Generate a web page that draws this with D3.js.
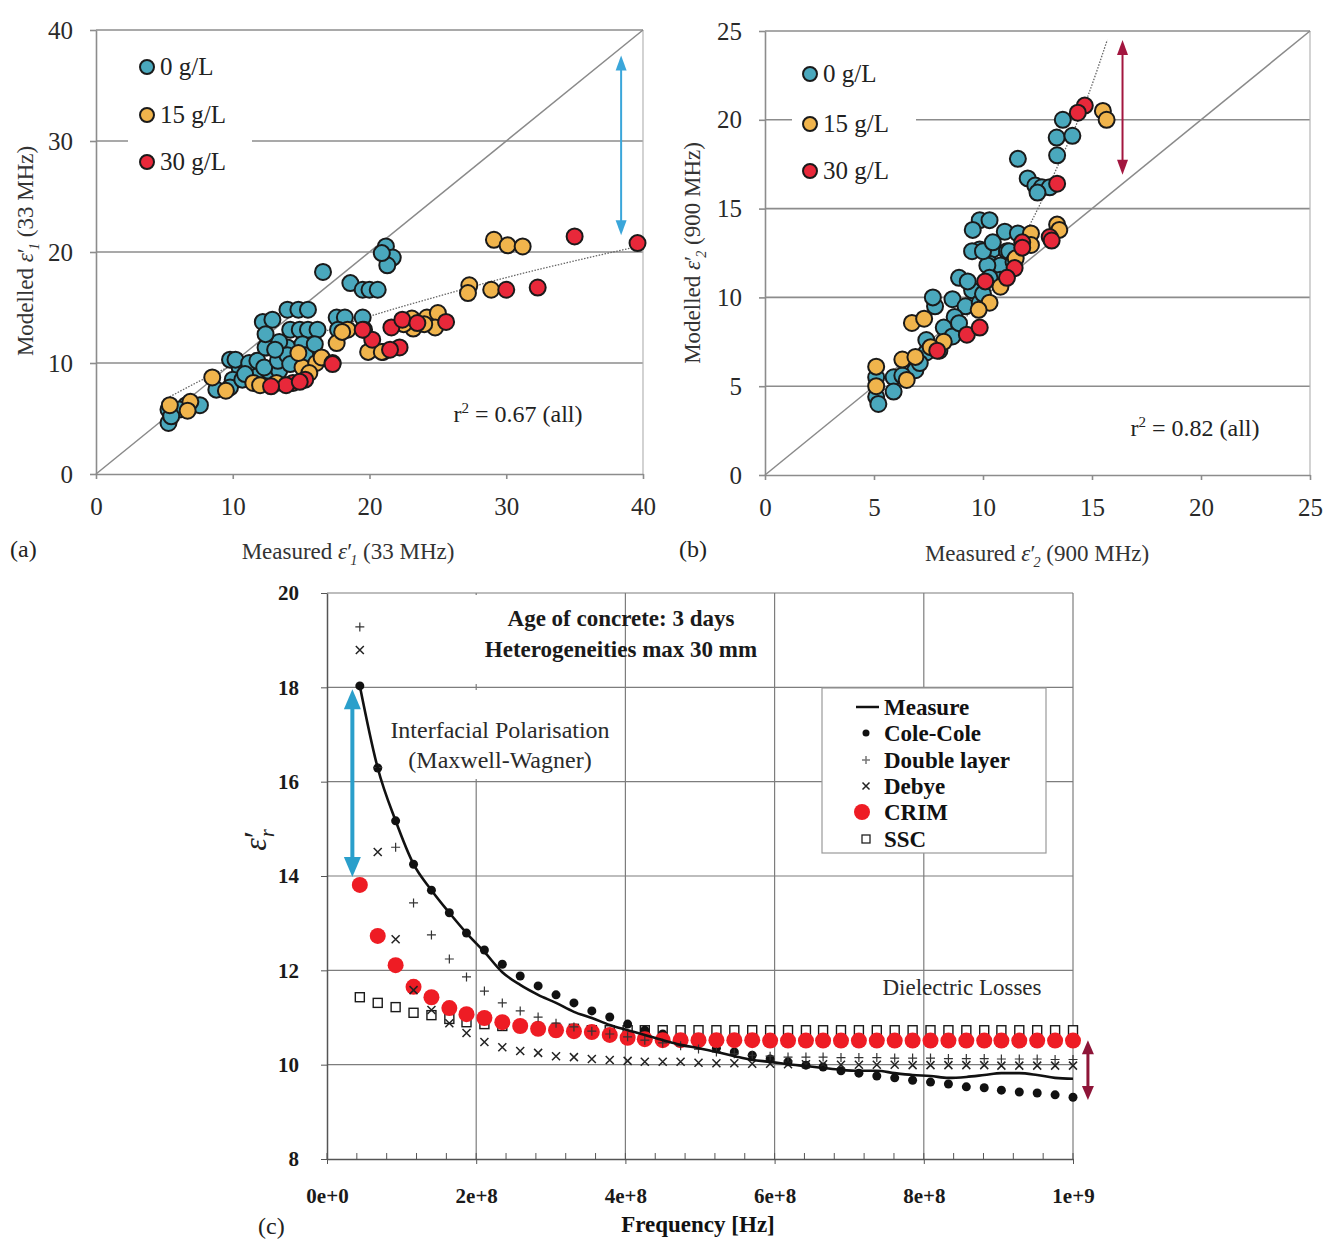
<!DOCTYPE html>
<html><head><meta charset="utf-8">
<script src="https://cdn.jsdelivr.net/npm/d3@7"></script>
<style>body{margin:0;background:#fff}</style></head>
<body><svg id="c" width="1337" height="1243"></svg>
<script>
// ---------- Panel (a) data: [measured, modelled] at 33 MHz ----------
const a0 = [[16.6,18.2],[18.6,17.2],[19.5,16.6],[20.0,16.6],[20.6,16.6],[21.2,20.5],[21.7,19.5],[21.3,18.8],[20.9,19.9],
 [14.0,14.8],[14.8,14.8],[15.5,14.8],[12.2,13.7],[12.9,13.9],[14.2,13.0],[14.9,13.0],[15.5,13.0],[16.2,13.0],
 [17.6,14.1],[18.2,14.1],[19.5,14.1],[17.7,13.0],[15.5,11.4],[14.0,11.4],[12.5,11.4],[13.4,11.9],
 [10.5,9.6],[9.8,10.3],[11.3,9.6],[11.8,9.1],[12.6,9.3],[13.4,9.3],[10.0,8.5],[8.8,7.6],[9.8,7.8],[7.6,6.2],[6.6,6.2],
 [5.3,5.8],[6.1,5.8],[5.3,4.6],[5.5,5.2],[10.7,8.5],[10.2,10.3],[11.2,10.0],[11.8,10.2],[12.3,9.6],[12.4,11.4],
 [13.3,10.2],[14.0,10.7],[14.2,9.9],[15.1,11.7],[15.3,10.7],[16.0,11.7],[12.4,12.6],[13.1,11.2],[10.9,9.0]];
const a15 = [[29.1,21.1],[30.1,20.6],[31.2,20.5],[27.3,17.0],[27.2,16.3],[28.9,16.6],[23.1,14.0],[24.2,14.1],[25.0,14.5],
 [24.8,13.2],[23.2,13.1],[21.0,11.0],[19.9,11.0],[20.9,11.0],[15.1,9.6],[16.1,10.0],[17.6,11.8],[18.4,13.0],[19.6,13.0],
 [13.2,8.2],[8.5,8.7],[14.8,10.9],[15.6,9.1],[6.9,6.5],[6.7,5.7],[5.4,6.2],[9.5,7.5],[11.5,8.2],[12.0,8.0],[16.5,10.5],
 [18.0,12.8],[22.5,13.5],[24.0,13.5]];
const a30 = [[39.6,20.8],[35.0,21.4],[32.3,16.8],[30.0,16.6],[21.6,13.2],[22.2,11.4],[22.4,13.9],[25.6,13.7],[20.2,12.1],
 [17.3,10.0],[14.4,8.2],[15.3,8.5],[17.3,9.9],[13.9,8.0],[14.9,8.3],[12.8,7.9],[21.5,11.2],[23.5,13.6],[19.5,13.0]];
const aTrend = [[5,6.7],[10,9.8],[15,12.1],[20,14.2],[25,16.0],[30,17.7],[35,19.2],[40,20.6]];
const aTicks = [0,10,20,30,40];

// ---------- Panel (b) data: [measured, modelled] at 900 MHz ----------
const b0 = [[13.66,20.0],[13.38,19.0],[14.1,19.1],[13.4,18.0],[11.6,17.8],[12.05,16.7],[12.4,16.3],[12.7,16.2],[13.06,16.2],[12.5,15.9],
 [9.85,14.35],[10.3,14.35],[9.53,13.8],[11.0,13.7],[11.6,13.6],[9.85,12.7],[10.45,12.7],[11.1,12.6],[8.9,11.1],[10.3,11.9],[10.8,11.8],
 [5.1,4.4],[5.1,5.5],[5.9,5.5],[5.9,4.7],[6.9,5.9],[7.4,6.9],[7.8,9.5],[7.7,10.0],[8.6,9.9],[9.5,10.4],[9.2,9.5],[8.7,8.9],
 [8.2,8.3],[7.4,7.6],[8.0,7.0],[8.6,7.8],[10.2,11.8],[10.8,11.0],[11.2,12.6],[9.5,12.6],[10.0,12.6],[10.45,13.1],[9.85,9.7],
 [10.3,11.1],[8.9,8.55],[6.3,5.6],[5.2,4.0],[7.1,6.3],[9.3,10.9],[10.0,10.2],[11.4,12.0]];
const b15 = [[15.5,20.5],[15.67,20.0],[12.2,13.6],[13.4,14.1],[13.5,13.8],[12.2,12.95],[10.3,9.7],[10.8,10.6],[5.1,6.1],[6.3,6.5],
 [6.74,8.56],[7.3,8.8],[6.5,5.35],[6.9,6.65],[5.1,5.0],[8.2,7.5],[9.8,9.3],[7.6,7.2],[11.5,12.2]];
const b30 = [[14.67,20.8],[14.35,20.4],[13.4,16.4],[13.06,13.4],[11.8,13.1],[11.45,11.65],[9.26,7.9],[9.85,8.3],[11.1,11.1],
 [11.8,12.8],[13.15,13.2],[10.1,10.9],[7.9,7.0]];
const bTrend = [[5,4.4],[7,6.3],[9,8.6],[10,10.0],[11,11.7],[11.8,13.3],[12.6,15.2],[13.5,17.6],[14.8,21.3],[15.7,24.5]];
const bTicks = [0,5,10,15,20,25];

const groups = ["0 g/L","15 g/L","30 g/L"];
const groupColors = ["#4aa8bd","#f0b44c","#e8283a"];

// ---------- Panel (c) data ----------
const freqMHz = [44,68,92,116,140,164,187,211,235,259,283,307,331,355,379,403,426,450,474,498,522,546,570,594,618,642,665,689,713,737,761,785,809,833,857,881,904,928,952,976,1000];
const measure = [18.03,16.29,15.17,14.25,13.70,13.22,12.79,12.39,11.96,11.69,11.48,11.31,11.12,10.99,10.84,10.73,10.63,10.52,10.42,10.35,10.27,10.18,10.10,10.06,10.01,9.97,9.93,9.89,9.87,9.87,9.82,9.78,9.76,9.72,9.74,9.78,9.82,9.82,9.78,9.72,9.70];
const coleCole = [18.03,16.29,15.17,14.25,13.70,13.22,12.79,12.43,12.13,11.88,11.67,11.48,11.31,11.14,11.01,10.86,10.73,10.65,10.57,10.44,10.35,10.27,10.20,10.12,10.06,9.99,9.95,9.87,9.82,9.76,9.72,9.67,9.63,9.59,9.53,9.51,9.46,9.42,9.40,9.36,9.31];
const doubleLayer = [19.28,16.3,14.61,13.43,12.75,12.24,11.86,11.56,11.31,11.14,11.01,10.88,10.80,10.71,10.65,10.59,10.52,10.46,10.40,10.33,10.27,10.23,10.20,10.18,10.16,10.16,10.16,10.15,10.15,10.15,10.14,10.14,10.14,10.13,10.13,10.13,10.12,10.12,10.12,10.11,10.11];
const debye = [18.79,14.51,12.66,11.58,11.16,10.88,10.67,10.48,10.37,10.29,10.25,10.18,10.16,10.12,10.10,10.08,10.06,10.06,10.06,10.04,10.03,10.03,10.02,10.02,10.01,10.01,10.01,10.0,10.0,10.0,10.0,9.99,9.99,9.99,9.99,9.99,9.98,9.98,9.98,9.98,9.98];
const crim = [13.81,12.73,12.11,11.65,11.43,11.20,11.07,10.99,10.90,10.82,10.76,10.73,10.71,10.69,10.63,10.57,10.54,10.52,10.52,10.52,10.52,10.52,10.52,10.51,10.51,10.51,10.51,10.51,10.51,10.51,10.51,10.51,10.51,10.51,10.51,10.51,10.51,10.51,10.51,10.51,10.51];
const ssc = [11.43,11.31,11.22,11.10,11.05,10.97,10.90,10.86,10.82,10.80,10.78,10.76,10.76,10.73,10.73,10.73,10.73,10.73,10.73,10.73,10.73,10.73,10.73,10.73,10.73,10.73,10.73,10.73,10.73,10.73,10.73,10.73,10.73,10.73,10.73,10.73,10.73,10.73,10.73,10.73,10.73];
const cXTicks = [0,2e8,4e8,6e8,8e8,1e9];
const cXTickLabels = ["0e+0","2e+8","4e+8","6e+8","8e+8","1e+9"];
const cYTicks = [8,10,12,14,16,18,20];
const legendC = ["Measure","Cole-Cole","Double layer","Debye","CRIM","SSC"];

// ================= drawing =================
const svg = d3.select("#c");
svg.append("rect").attr("width",1337).attr("height",1243).attr("fill","#fff");
const SERIF = "'Liberation Serif', 'Times New Roman', serif";

function arrow(g, x, y1, y2, color, w, hw, hl) {
  g.append("line").attr("x1",x).attr("x2",x).attr("y1",y1+hl-2).attr("y2",y2-hl+2)
    .attr("stroke",color).attr("stroke-width",w);
  g.append("path").attr("d",`M${x},${y1}L${x-hw/2},${y1+hl}L${x+hw/2},${y1+hl}Z`).attr("fill",color);
  g.append("path").attr("d",`M${x},${y2}L${x-hw/2},${y2-hl}L${x+hw/2},${y2-hl}Z`).attr("fill",color);
}

function epsLabel(g, x, y, rot, pre, sub, post, size, color) {
  const t = g.append("text").attr("transform",`translate(${x},${y}) rotate(${rot})`)
    .attr("text-anchor","middle").style("font-family",SERIF).style("font-size",size+"px").attr("fill",color);
  t.append("tspan").text(pre);
  t.append("tspan").style("font-style","italic").text("ε");
  t.append("tspan").text("′");
  t.append("tspan").attr("dx",-2).attr("dy",6).style("font-style","italic").style("font-size",(size*0.62)+"px").text(sub);
  t.append("tspan").attr("dy",-6).text("\u00a0" + post);
}

function scatterPanel(o) {
  const g = svg.append("g");
  const x = d3.scaleLinear().domain(o.dom).range(o.xr);
  const y = d3.scaleLinear().domain(o.dom).range(o.yr);
  const gridC = "#8c8c8c";
  g.selectAll(".gl").data(o.ticks.slice(1)).join("line")
    .attr("x1",o.xr[0]).attr("x2",o.xr[1]).attr("y1",d=>y(d)).attr("y2",d=>y(d))
    .attr("stroke",gridC).attr("stroke-width",1.6);
  g.append("line").attr("x1",o.xr[1]).attr("x2",o.xr[1]).attr("y1",o.yr[1]).attr("y2",o.yr[0])
    .attr("stroke","#b5b5b5").attr("stroke-width",1.2);
  const ax = g.append("g").attr("transform",`translate(0,${o.yr[0]})`)
    .call(d3.axisBottom(x).tickValues(o.ticks).tickSize(5).tickSizeOuter(0).tickPadding(18));
  const ay = g.append("g").attr("transform",`translate(${o.xr[0]},0)`)
    .call(d3.axisLeft(y).tickValues(o.ticks).tickSize(6).tickSizeOuter(0).tickPadding(17));
  [ax,ay].forEach(a=>{
    a.select(".domain").attr("stroke",gridC).attr("stroke-width",1.6);
    a.selectAll(".tick line").attr("stroke",gridC).attr("stroke-width",1.6);
    a.selectAll("text").style("font-family",SERIF).style("font-size","25px").attr("fill","#2a2a2a");
  });
  g.append("line").attr("x1",x(o.dom[0])).attr("y1",y(o.dom[0])).attr("x2",x(o.dom[1])).attr("y2",y(o.dom[1]))
    .attr("stroke","#8a8a8a").attr("stroke-width",1.5);
  g.append("path").datum(o.trend).attr("fill","none").attr("stroke","#666").attr("stroke-width",1.3)
    .attr("stroke-dasharray","1.5,1.5")
    .attr("d", d3.line().x(d=>x(d[0])).y(d=>y(d[1])).curve(d3.curveMonotoneX));
  g.append("rect").attr("x",o.leg.x).attr("y",o.leg.y).attr("width",o.leg.w).attr("height",o.leg.h).attr("fill","#fff");
  groups.forEach((name,i)=>{
    const cy = o.leg.cy[i];
    g.append("circle").attr("cx",o.leg.cx).attr("cy",cy).attr("r",7)
      .attr("fill",groupColors[i]).attr("stroke","#1a1a1a").attr("stroke-width",2);
    g.append("text").attr("x",o.leg.cx+13).attr("y",cy+8).text(name)
      .style("font-family",SERIF).style("font-size","25px").attr("fill","#222");
  });
  o.sets.forEach((set,i)=>{
    g.append("g").selectAll("circle").data(set).join("circle")
      .attr("cx",d=>x(d[0])).attr("cy",d=>y(d[1])).attr("r",8)
      .attr("fill",groupColors[i]).attr("stroke","#1a1a1a").attr("stroke-width",2);
  });
  arrow(g, x(o.arrow[0]), y(o.arrow[1]), y(o.arrow[2]), o.arrowColor, 2, 11, 15);
  const t = g.append("text").attr("x",o.r2[0]).attr("y",o.r2[1]).attr("text-anchor","middle")
    .style("font-family",SERIF).style("font-size","24px").attr("fill","#222");
  t.append("tspan").text("r");
  t.append("tspan").attr("dy",-9).style("font-size","15px").text("2");
  t.append("tspan").attr("dy",9).text(" = " + o.r2text + " (all)");
  epsLabel(g, o.xlab[0], o.xlab[1], 0, "Measured ", o.sub, o.freq, 23, "#333");
  epsLabel(g, o.ylab[0], o.ylab[1], -90, "Modelled ", o.sub, o.freq, 23, "#333");
  g.append("text").attr("x",o.tag[0]).attr("y",o.tag[1]).text(o.tagText)
    .style("font-family",SERIF).style("font-size","24px").attr("fill","#222");
}

scatterPanel({dom:[0,40], xr:[96,643], yr:[474,30], ticks:aTicks, sets:[a0,a15,a30], trend:aTrend,
  leg:{x:128,y:46,w:124,h:138,cx:147,cy:[67,115,162]}, arrow:[38.4,37.7,21.5], arrowColor:"#3aa6da",
  r2:[518,422], r2text:"0.67", xlab:[348,559], ylab:[33,251], sub:"1", freq:"(33 MHz)", tag:[10,557], tagText:"(a)"});
scatterPanel({dom:[0,25], xr:[765,1310], yr:[475,31], ticks:bTicks, sets:[b0,b15,b30], trend:bTrend,
  leg:{x:792,y:53,w:124,h:138,cx:810,cy:[74,124,171]}, arrow:[16.4,24.5,16.9], arrowColor:"#a3163f",
  r2:[1195,436], r2text:"0.82", xlab:[1037,561], ylab:[700,253], sub:"2", freq:"(900 MHz)", tag:[679,557], tagText:"(b)"});

// ================= Panel (c) =================
(function(){
  const g = svg.append("g");
  const x = d3.scaleLinear().domain([0,1e9]).range([327,1073]);
  const y = d3.scaleLinear().domain([8,20]).range([1159,593]);
  const gc = "#7d7d7d";
  g.selectAll(".hg").data(cYTicks.slice(1)).join("line")
    .attr("x1",327).attr("x2",1073).attr("y1",d=>y(d)).attr("y2",d=>y(d)).attr("stroke",gc).attr("stroke-width",1.2);
  g.selectAll(".vg").data(cXTicks.slice(1)).join("line")
    .attr("x1",d=>x(d)).attr("x2",d=>x(d)).attr("y1",593).attr("y2",1159).attr("stroke",gc).attr("stroke-width",1.2);
  g.selectAll(".mt").data(d3.range(0,1e9+1,4e7)).join("line")
    .attr("x1",d=>x(d)).attr("x2",d=>x(d)).attr("y1",1159).attr("y2",1153).attr("stroke","#555").attr("stroke-width",1);
  const ax = g.append("g").attr("transform","translate(0,1159)")
    .call(d3.axisBottom(x).tickValues(cXTicks).tickFormat((d,i)=>cXTickLabels[i]).tickSize(5).tickSizeOuter(0).tickPadding(24));
  const ay = g.append("g").attr("transform","translate(327,0)")
    .call(d3.axisLeft(y).tickValues(cYTicks).tickSize(6).tickSizeOuter(0).tickPadding(22));
  [ax,ay].forEach(a=>{
    a.select(".domain").attr("stroke","#555").attr("stroke-width",1.5);
    a.selectAll(".tick line").attr("stroke","#555");
    a.selectAll("text").style("font-family",SERIF).style("font-size","21px").style("font-weight","bold").attr("fill","#1a1a1a");
  });
  g.append("rect").attr("x",452).attr("y",595).attr("width",166).attr("height",89).attr("fill","#fff");
  g.append("rect").attr("x",378).attr("y",690).attr("width",242).attr("height",89).attr("fill","#fff");
  g.append("text").attr("x",621).attr("y",626).attr("text-anchor","middle").text("Age of concrete: 3 days")
    .style("font-family",SERIF).style("font-size","23px").style("font-weight","bold").attr("fill","#1a1a1a");
  g.append("text").attr("x",621).attr("y",657).attr("text-anchor","middle").text("Heterogeneities max 30 mm")
    .style("font-family",SERIF).style("font-size","23px").style("font-weight","bold").attr("fill","#1a1a1a");
  g.append("text").attr("x",500).attr("y",738).attr("text-anchor","middle").text("Interfacial Polarisation")
    .style("font-family",SERIF).style("font-size","24px").attr("fill","#2a2a2a");
  g.append("text").attr("x",500).attr("y",768).attr("text-anchor","middle").text("(Maxwell-Wagner)")
    .style("font-family",SERIF).style("font-size","24px").attr("fill","#2a2a2a");
  g.append("text").attr("x",962).attr("y",995).attr("text-anchor","middle").text("Dielectric Losses")
    .style("font-family",SERIF).style("font-size","23px").attr("fill","#2a2a2a");

  const fx = i => x(freqMHz[i]*1e6);
  g.append("g").selectAll("rect").data(ssc).join("rect")
    .attr("x",(d,i)=>fx(i)-4.5).attr("y",d=>y(d)-4.5).attr("width",9).attr("height",9)
    .attr("fill","#fff").attr("stroke","#1a1a1a").attr("stroke-width",1.4);
  g.append("g").selectAll("circle").data(coleCole).join("circle")
    .attr("cx",(d,i)=>fx(i)).attr("cy",d=>y(d)).attr("r",4.5).attr("fill","#111");
  g.append("g").selectAll("circle").data(crim).join("circle")
    .attr("cx",(d,i)=>fx(i)).attr("cy",d=>y(d)).attr("r",8).attr("fill","#ee1c24");
  g.append("g").selectAll("path").data(debye).join("path")
    .attr("d",(d,i)=>{const cx=fx(i),cy=y(d),s=4;return `M${cx-s},${cy-s}L${cx+s},${cy+s}M${cx-s},${cy+s}L${cx+s},${cy-s}`;})
    .attr("stroke","#222").attr("stroke-width",1.5);
  g.append("g").selectAll("path").data(doubleLayer).join("path")
    .attr("d",(d,i)=>{const cx=fx(i),cy=y(d),s=4.5;return `M${cx-s},${cy}L${cx+s},${cy}M${cx},${cy-s}L${cx},${cy+s}`;})
    .attr("stroke","#333").attr("stroke-width",1.2);
  g.append("path").datum(measure).attr("fill","none").attr("stroke","#111").attr("stroke-width",2.6)
    .attr("d", d3.line().x((d,i)=>fx(i)).y(d=>y(d)).curve(d3.curveMonotoneX));

  arrow(g, x(3.4e7), y(17.96), y(13.98), "#2a9fcb", 4, 17, 20);
  arrow(g, x(1.02e9), y(10.52), y(9.25), "#8e1538", 3, 12, 14);

  g.append("rect").attr("x",822).attr("y",688).attr("width",224).attr("height",165)
    .attr("fill","#fff").attr("stroke","#9a9a9a").attr("stroke-width",1.2);
  const ly = [707,733,760,786,812,839];
  legendC.forEach((name,i)=>{
    const cy = ly[i], cx = 866;
    if (i===0) g.append("line").attr("x1",856).attr("x2",879).attr("y1",cy).attr("y2",cy).attr("stroke","#111").attr("stroke-width",2.5);
    if (i===1) g.append("circle").attr("cx",cx).attr("cy",cy).attr("r",3.5).attr("fill","#111");
    if (i===2) g.append("path").attr("d",`M${cx-4},${cy}L${cx+4},${cy}M${cx},${cy-4}L${cx},${cy+4}`).attr("stroke","#777").attr("stroke-width",1.5);
    if (i===3) g.append("path").attr("d",`M${cx-3.5},${cy-3.5}L${cx+3.5},${cy+3.5}M${cx-3.5},${cy+3.5}L${cx+3.5},${cy-3.5}`).attr("stroke","#222").attr("stroke-width",1.5);
    if (i===4) g.append("circle").attr("cx",cx-4).attr("cy",cy).attr("r",8).attr("fill","#ee1c24");
    if (i===5) g.append("rect").attr("x",cx-4).attr("y",cy-4).attr("width",8).attr("height",8).attr("fill","#fff").attr("stroke","#222").attr("stroke-width",1.3);
    g.append("text").attr("x",884).attr("y",cy+8).text(name)
      .style("font-family",SERIF).style("font-size","23px").style("font-weight","bold").attr("fill","#111");
  });

  g.append("text").attr("x",698).attr("y",1232).attr("text-anchor","middle").text("Frequency [Hz]")
    .style("font-family",SERIF).style("font-size","23px").style("font-weight","bold").attr("fill","#111");
  const yl = g.append("text").attr("transform","translate(266,840) rotate(-90)").attr("text-anchor","middle")
    .style("font-family",SERIF).style("font-size","32px").attr("fill","#222");
  yl.append("tspan").style("font-style","italic").text("ε");
  yl.append("tspan").text("′");
  yl.append("tspan").attr("dx",-6).attr("dy",8).style("font-size","20px").style("font-style","italic").text("r");
  g.append("text").attr("x",258).attr("y",1234).text("(c)")
    .style("font-family",SERIF).style("font-size","24px").attr("fill","#222");
})();
</script>
</body></html>
